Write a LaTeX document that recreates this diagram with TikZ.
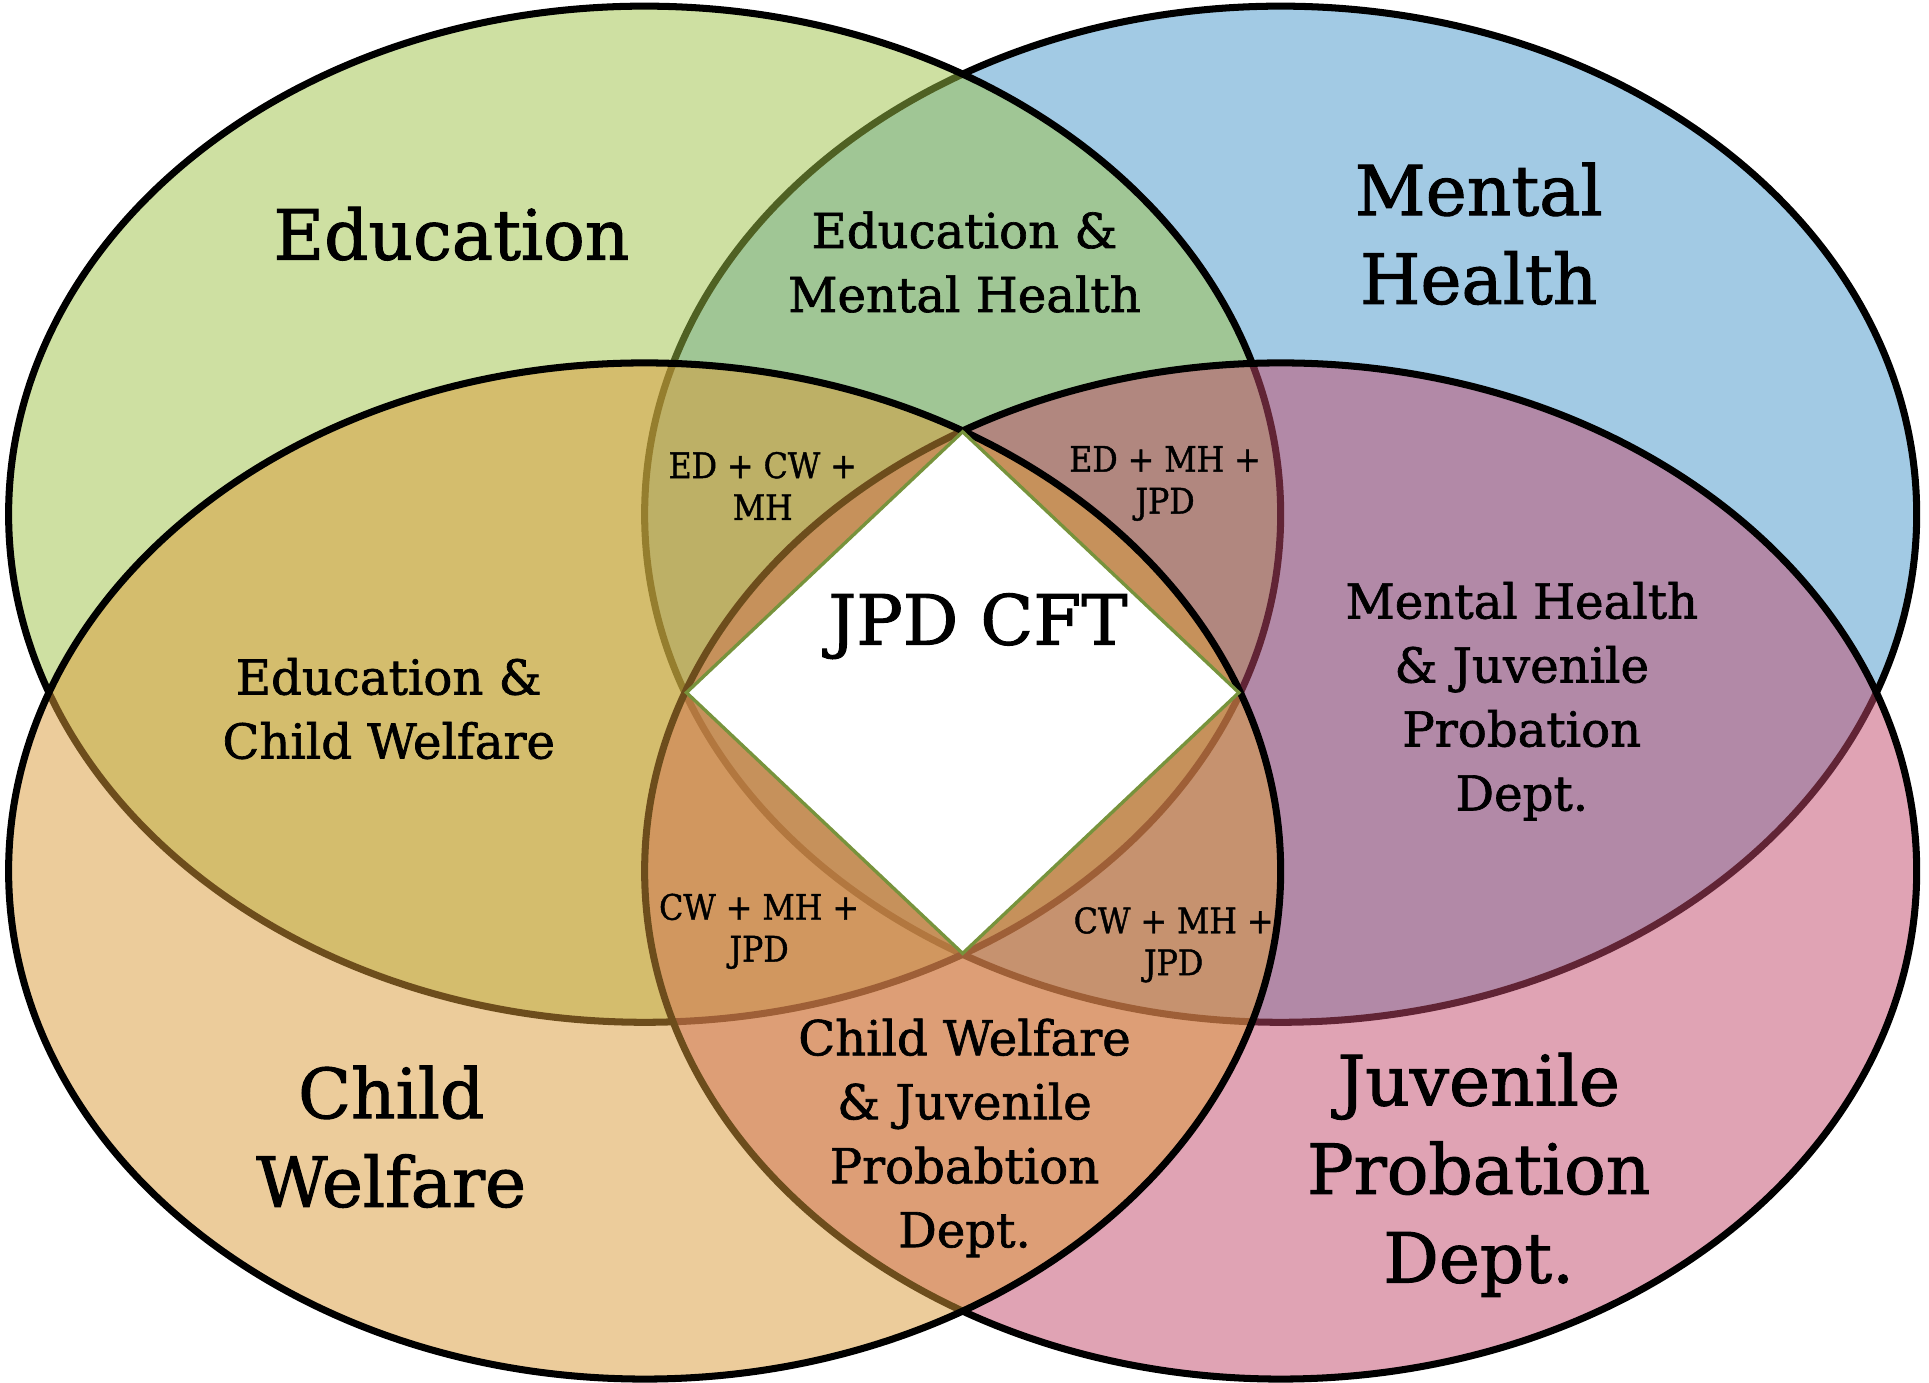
\documentclass[tikz,border=0pt]{standalone}
\usepackage{fontspec}
\setmainfont{DejaVu Serif}[FakeBold=1.4]
\newfontfamily\condfont{DejaVu Serif Condensed}[FakeBold=1.2]
\definecolor{mhc}{RGB}{71,151,203}
\definecolor{edc}{RGB}{159,195,71}
\definecolor{cwc}{RGB}{219,155,57}
\definecolor{jpc}{RGB}{195,73,107}
\definecolor{diac}{RGB}{119,147,60}
\begin{document}
\begin{tikzpicture}[x=0.012302cm,y=-0.012302cm,
  venn/.style={draw=black, line width=2pt, fill opacity=0.5},
  bigl/.style={align=center, inner sep=0pt, font=\fontsize{19.7}{25.2}\selectfont},
  midl/.style={align=center, inner sep=0pt, font=\fontsize{13.7}{18.2}\selectfont},
  smalll/.style={align=center, inner sep=0pt, font=\condfont\fontsize{10}{11.9}\selectfont}]
\useasboundingbox (0,0) rectangle (1568,1124);
\fill[white] (0,0) rectangle (1568,1124);
% ellipses, in stacking order
\draw[venn, fill=mhc] (1041,418) ellipse [x radius=517, y radius=413];
\draw[venn, fill=edc] (524,418) ellipse [x radius=517, y radius=413];
\draw[venn, fill=jpc] (1041,708) ellipse [x radius=517, y radius=413];
\draw[venn, fill=cwc] (524,708) ellipse [x radius=517, y radius=413];
% centre diamond
\coordinate (dt) at (782.5,351);
\coordinate (dr) at (1007,563);
\coordinate (db) at (782.5,775);
\coordinate (dl) at (558,563);
\draw[draw=diac, line width=0.95pt, fill=white, line join=miter] (dt) -- (dr) -- (db) -- (dl) -- cycle;
% labels
\node[bigl, anchor=base] (ed) at (367,211) {Education};
\node[bigl] (mh) at (1202,190) {Mental\\Health};
\node[bigl] (cw) at (318,924) {Child\\Welfare};
\node[bigl] (jp) at (1202,955) {Juvenile\\Probation\\Dept.};
\node[bigl, anchor=base] (cft) at (795,524) {JPD CFT};
\node[midl] (edmh) at (784,213) {Education \&\\Mental Health};
\node[midl] (edcw) at (316,576) {Education \&\\Child Welfare};
\node[midl] (mhjp) at (1237,570) {Mental Health\\\& Juvenile\\Probation\\Dept.};
\node[midl] (cwjp) at (784,925) {Child Welfare\\\& Juvenile\\Probabtion\\Dept.};
\node[smalll] (edcwmh) at (620,395) {ED + CW +\\MH};
\node[smalll] (edmhjp) at (947,393) {ED + MH +\\JPD};
\node[smalll] (cwmhjpa) at (617,757) {CW + MH +\\JPD};
\node[smalll] (cwmhjpb) at (954,768) {CW + MH +\\JPD};
\end{tikzpicture}
\end{document}
